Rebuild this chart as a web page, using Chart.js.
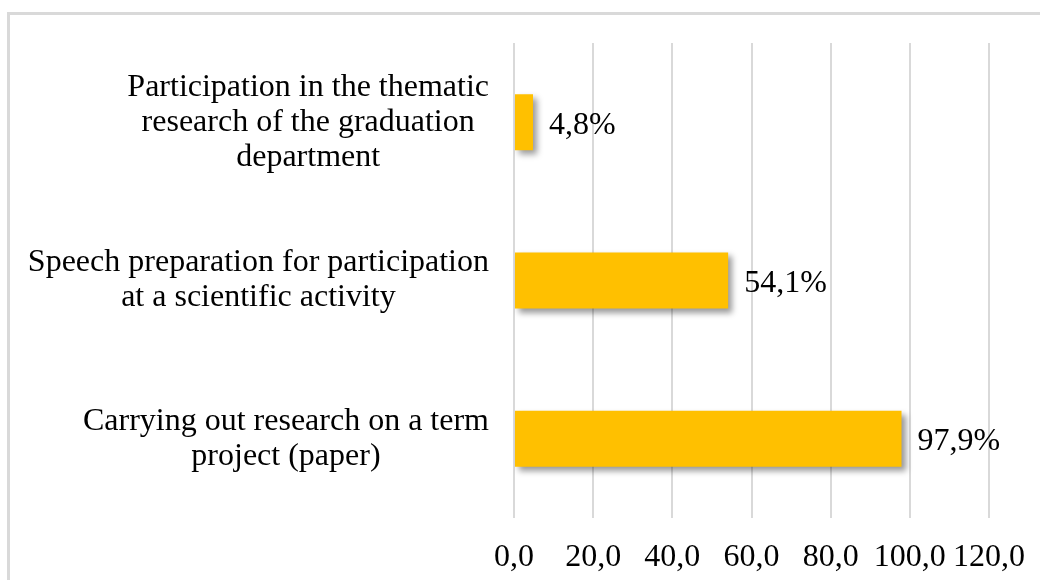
<!DOCTYPE html>
<html>
<head>
<meta charset="utf-8">
<script src="https://cdn.jsdelivr.net/npm/chart.js@4.4.1/dist/chart.umd.min.js"></script>
<style>
  html, body { margin: 0; padding: 0; background: #fff; overflow: hidden; }
  #frame { position: absolute; left: 7px; top: 12px; width: 1100px; height: 640px;
           border-left: 3px solid #d9d9d9; border-top: 3px solid #d9d9d9; }
  #wrap { position: absolute; left: 0; top: 0; width: 1040px; height: 580px; }
</style>
</head>
<body>
<div id="frame"></div>
<div id="wrap"><canvas id="chart"></canvas></div>
<script>
// chart data
const categories = [
    ['Participation in the thematic', 'research of the graduation', 'department'],
    ['Speech preparation for participation', 'at a scientific activity'],
    ['Carrying out research on a term', 'project (paper)']
];
const shares = [4.8, 54.1, 97.9];
const xTicks = [0, 20, 40, 60, 80, 100, 120];

const FONT = '"Liberation Serif", "Times New Roman", serif';
const SIZE = 32;
const fmt = v => v.toFixed(1).replace('.', ',');

// soft drop shadow under the bars
const barShadow = {
    id: 'barShadow',
    beforeDatasetsDraw(chart) {
        const ctx = chart.ctx;
        ctx.save();
        ctx.shadowColor = 'rgba(0, 0, 0, 0.4)';
        ctx.shadowBlur = 6;
        ctx.shadowOffsetX = 4;
        ctx.shadowOffsetY = 4;
    },
    afterDatasetsDraw(chart) {
        chart.ctx.restore();
    }
};

// category labels: lines centred inside a block that sits right of the axis
const categoryLabels = {
    id: 'categoryLabels',
    afterDraw(chart) {
        const ctx = chart.ctx;
        const yScale = chart.scales.y;
        const right = chart.chartArea.left - 25;
        ctx.save();
        ctx.font = SIZE + 'px ' + FONT;
        ctx.fillStyle = '#000';
        ctx.textAlign = 'center';
        ctx.textBaseline = 'middle';
        chart.data.labels.forEach((lines, i) => {
            const w = Math.max(...lines.map(l => ctx.measureText(l).width));
            const cx = right - w / 2;
            const cy = yScale.getPixelForTick(i);
            lines.forEach((l, j) => {
                ctx.fillText(l, cx, cy + (j - (lines.length - 1) / 2) * 35);
            });
        });
        ctx.restore();
    }
};

// value labels at the end of each bar
const valueLabels = {
    id: 'valueLabels',
    afterDraw(chart) {
        const ctx = chart.ctx;
        const meta = chart.getDatasetMeta(0);
        ctx.save();
        ctx.font = SIZE + 'px ' + FONT;
        ctx.fillStyle = '#000';
        ctx.textAlign = 'left';
        ctx.textBaseline = 'middle';
        meta.data.forEach((bar, i) => {
            ctx.fillText(fmt(shares[i]) + '%', bar.x + 16, bar.y + 3);
        });
        ctx.restore();
    }
};

const ctx = document.getElementById('chart').getContext('2d');
new Chart(ctx, {
    type: 'bar',
    data: {
        labels: categories,
        datasets: [{
            data: shares,
            backgroundColor: '#FFC000',
            borderWidth: 0,
            barPercentage: 0.354,
            categoryPercentage: 1
        }]
    },
    options: {
        indexAxis: 'y',
        responsive: true,
        maintainAspectRatio: false,
        animation: false,
        layout: { padding: { top: 43, right: 51, bottom: 5, left: 0 } },
        plugins: {
            legend: { display: false },
            tooltip: { enabled: false }
        },
        scales: {
            x: {
                min: xTicks[0],
                max: xTicks[xTicks.length - 1],
                afterBuildTicks: scale => { scale.ticks = xTicks.map(v => ({ value: v })); },
                afterFit: scale => {
                    scale.paddingLeft = 0;
                    scale.paddingRight = 0;
                    scale.height = 57;
                },
                grid: { color: '#d9d9d9', lineWidth: 2, drawTicks: false },
                border: { display: false },
                ticks: {
                    padding: 20,
                    color: '#000',
                    autoSkip: false,
                    maxRotation: 0,
                    minRotation: 0,
                    font: { family: FONT, size: SIZE },
                    callback: v => fmt(v)
                }
            },
            y: {
                afterFit: scale => {
                    scale.width = 514;
                    scale.paddingTop = 0;
                    scale.paddingBottom = 0;
                },
                grid: { display: false },
                border: { display: false },
                ticks: { display: false }
            }
        }
    },
    plugins: [barShadow, categoryLabels, valueLabels]
});
</script>
</body>
</html>
